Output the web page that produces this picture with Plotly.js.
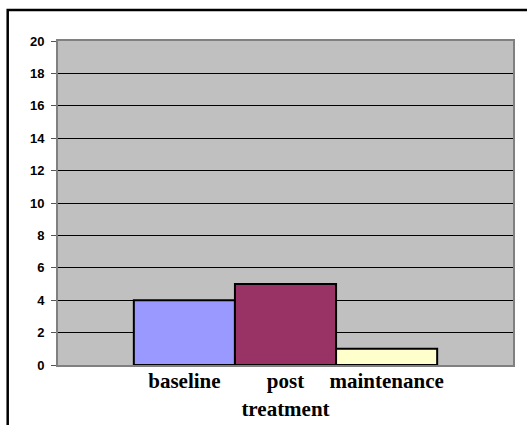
<!DOCTYPE html>
<html>
<head>
<meta charset="utf-8">
<script src="https://cdn.plot.ly/plotly-3.0.1.min.js"></script>
<style>html,body{margin:0;padding:0;background:#fff;}#chart{width:527px;height:425px;}</style>
</head>
<body>
<div id="chart"></div>
<script>
const categories = ["baseline", "post<br>treatment", "maintenance"];
const values = [4, 5, 1];
const barColors = ["#9999FF", "#993366", "#FFFFCC"];
const yTicks = [0, 2, 4, 6, 8, 10, 12, 14, 16, 18, 20];

const L = 58, R = 14, T = 41, B = 60, W = 527, H = 425;
const pw = W - L - R, ph = H - T - B;
const px = x => (x - L) / pw;
const py = y => (H - B - y) / ph;

const trace = {
  type: "bar",
  x: categories,
  y: values,
  width: 1,
  marker: { color: barColors, line: { color: "#000", width: 2 } },
  hoverinfo: "none"
};

const layout = {
  width: W, height: H,
  margin: { l: L, r: R, t: T, b: B, pad: 0 },
  paper_bgcolor: "#fff",
  plot_bgcolor: "#C0C0C0",
  showlegend: false,
  bargap: 0,
  xaxis: {
    type: "category",
    range: [-1.25, 3.25],
    showgrid: false,
    zeroline: false,
    showline: true, mirror: true, linecolor: "#808080", linewidth: 2,
    ticks: "",
    tickangle: 0,
    ticklabelstandoff: -4,
    tickfont: { family: "Liberation Serif", size: 21, color: "#000", weight: "bold" },
    fixedrange: true
  },
  yaxis: {
    range: [0, 20],
    tickvals: yTicks,
    showgrid: true, gridcolor: "#000", gridwidth: 1,
    zeroline: false,
    showline: true, mirror: true, linecolor: "#808080", linewidth: 2,
    ticks: "outside", ticklen: 5, tickcolor: "#555", tickwidth: 1,
    ticklabelstandoff: 4,
    tickfont: { family: "Liberation Sans", size: 13, color: "#000", weight: "bold" },
    fixedrange: true
  },
  shapes: [{
    type: "path", xref: "paper", yref: "paper",
    path: `M ${px(7.7)} ${py(H+2)} L ${px(7.7)} ${py(10)} L ${px(W+2)} ${py(10)}`,
    line: { color: "#000", width: 2.5 }
  }]
};

Plotly.newPlot("chart", [trace], layout, { staticPlot: true });
</script>
</body>
</html>
